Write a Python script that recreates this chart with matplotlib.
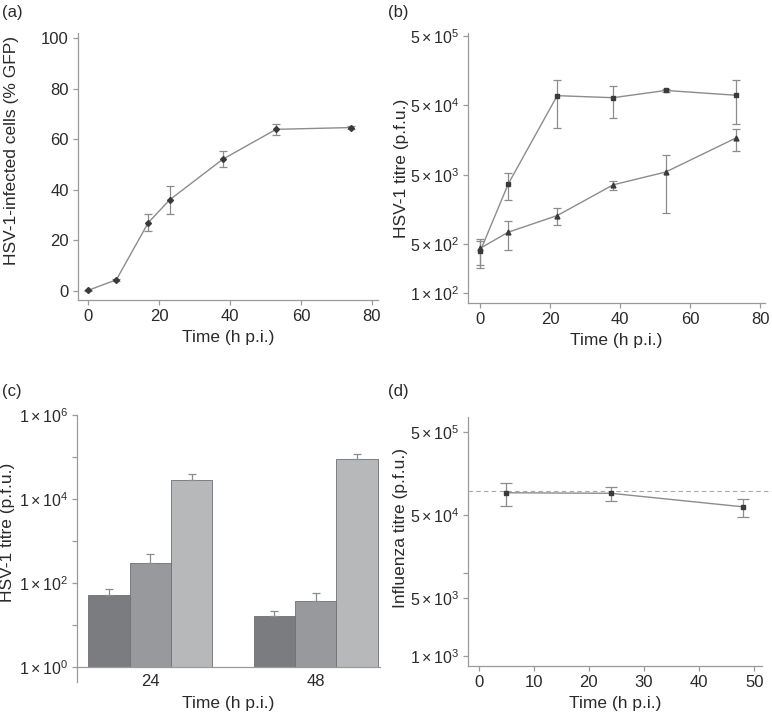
import matplotlib
matplotlib.use("Agg")
import matplotlib.pyplot as plt
import numpy as np

# ── Data ────────────────────────────────────────────────────────────────────
# (a) % GFP-positive cells
a_time = [0, 8, 17, 23, 38, 53, 74]
a_gfp = [0.2, 4.4, 27.0, 36.0, 52.1, 63.9, 64.6]
a_err = [0.3, 0.5, 3.3, 5.5, 3.1, 2.2, 0.6]

# (b) HSV-1 titre, two series
b_time = [0, 8, 22, 38, 53, 73]
b_sq = [400, 3700, 69000, 64500, 82000, 70000]
b_sq_lo = [250, 2200, 24000, 33000, 78000, 26600]
b_sq_hi = [560, 5300, 115000, 96000, 86000, 115000]
b_tri = [440, 750, 1300, 3600, 5500, 16900]
b_tri_lo = [230, 410, 960, 3050, 1430, 11000]
b_tri_hi = [590, 1100, 1690, 4100, 9700, 22700]

# (c) HSV-1 titre bars at 24 and 48 h p.i.
c_groups = ["24", "48"]
c_bar1 = [51, 16]
c_bar1_hi = [72, 21.5]
c_bar2 = [305, 37]
c_bar2_hi = [500, 59]
c_bar3 = [27800, 88000]
c_bar3_hi = [38700, 118000]

# (d) influenza titre
d_time = [5, 24, 48]
d_titre = [93400, 92000, 63100]
d_lo = [65500, 75300, 47300]
d_hi = [121000, 109000, 77500]
d_ref = 97800

# ── Style ───────────────────────────────────────────────────────────────────
TXT = "#2a2a2a"
SPINE = "#9a9a9a"
LINE = "#8c8c8c"
MARK = "#3a3a3a"
BAR_COLORS = ["#7b7c80", "#98999d", "#b7b8ba"]
BAR_EDGE = "#6e6f72"
LOGSIZE = 11.5

plt.rcParams.update({
    "font.family": ["Liberation Sans", "DejaVu Sans"],
    "font.size": 12,
    "mathtext.fontset": "custom",
    "mathtext.rm": "Liberation Sans",
    "mathtext.it": "Liberation Sans:italic",
    "text.color": TXT,
    "axes.labelcolor": TXT,
    "xtick.color": SPINE,
    "ytick.color": SPINE,
    "xtick.labelcolor": TXT,
    "ytick.labelcolor": TXT,
    "xtick.labelsize": 12,
    "ytick.labelsize": 12,
    "axes.labelsize": 12.5,
    "axes.edgecolor": SPINE,
    "axes.linewidth": 0.9,
    "xtick.major.width": 0.9,
    "ytick.major.width": 0.9,
    "xtick.minor.width": 0.9,
    "ytick.minor.width": 0.9,
    "xtick.major.size": 3.5,
    "ytick.major.size": 3.5,
    "ytick.minor.size": 3.5,
    "xtick.major.pad": 3,
    "ytick.major.pad": 3,
})


def sci(m, e):
    return r"$\mathregular{%d\times10^{%d}}$" % (m, e)


def style(ax):
    ax.spines["top"].set_visible(False)
    ax.spines["right"].set_visible(False)
    ax.tick_params(direction="out")


fig = plt.figure(figsize=(7.72, 7.15), dpi=100)
W, H = 772, 715


def add_ax(l, r, t, b):
    return fig.add_axes([l / W, 1 - b / H, (r - l) / W, (b - t) / H])


ax_a = add_ax(78, 378, 33, 300)
ax_b = add_ax(468, 765, 33, 303)
ax_c = add_ax(77, 380, 415, 682)
ax_d = add_ax(468, 762, 417, 666)

err_kw = dict(ecolor=LINE, elinewidth=0.9, capthick=0.9)

# ── (a) ─────────────────────────────────────────────────────────────────────
style(ax_a)
ax_a.errorbar(a_time, a_gfp, yerr=a_err, color=LINE, lw=1.0, marker="D",
              ms=3, mfc=MARK, mec=MARK, capsize=3, **err_kw)
ax_a.set_xlim(-2.8, 81.7)
ax_a.set_ylim(-3.6, 102)
ax_a.set_xticks([0, 20, 40, 60, 80])
ax_a.set_yticks([0, 20, 40, 60, 80, 100])
ax_a.set_xlabel("Time (h p.i.)", labelpad=4)
ax_a.set_ylabel("HSV-1-infected cells (% GFP)")
ax_a.yaxis.set_label_coords(-0.197, 0.56)

# ── (b) ─────────────────────────────────────────────────────────────────────
style(ax_b)
b_x = np.array(b_time)
for y, lo, hi, mk in [(b_sq, b_sq_lo, b_sq_hi, "s"), (b_tri, b_tri_lo, b_tri_hi, "^")]:
    y = np.array(y)
    yerr = [y - np.array(lo), np.array(hi) - y]
    ax_b.errorbar(b_x, y, yerr=yerr, color=LINE, lw=1.0, marker=mk, ms=3.5,
                  mfc=MARK, mec=MARK, capsize=3, **err_kw)
ax_b.set_yscale("log")
ax_b.set_xlim(-3.5, 81.4)
ax_b.set_ylim(71.8, 5.5e5)
ax_b.set_xticks([0, 20, 40, 60, 80])
ax_b.set_yticks([1e2, 5e2, 5e3, 5e4, 5e5])
ax_b.set_yticklabels([sci(1, 2), sci(5, 2), sci(5, 3), sci(5, 4), sci(5, 5)],
                     fontsize=LOGSIZE)
ax_b.yaxis.set_minor_locator(matplotlib.ticker.NullLocator())
ax_b.set_xlabel("Time (h p.i.)", labelpad=4)
ax_b.set_ylabel("HSV-1 titre (p.f.u.)")
ax_b.yaxis.set_label_coords(-0.199, 0.5)

# ── (c) ─────────────────────────────────────────────────────────────────────
style(ax_c)
cx = np.arange(len(c_groups))
bw = 0.25
for i, (vals, hi) in enumerate([(c_bar1, c_bar1_hi), (c_bar2, c_bar2_hi),
                                (c_bar3, c_bar3_hi)]):
    vals = np.array(vals, dtype=float)
    up = np.array(hi) - vals
    ax_c.bar(cx + (i - 1) * bw, vals - 1, bw, bottom=1, color=BAR_COLORS[i],
             edgecolor=BAR_EDGE, linewidth=0.6, zorder=2)
    ax_c.errorbar(cx + (i - 1) * bw, vals, yerr=[np.zeros_like(up), up],
                  fmt="none", capsize=3, zorder=3, **err_kw)
ax_c.set_yscale("log")
ax_c.set_ylim(0.44, 1e6)
ax_c.set_xlim(-0.443, 1.39)
ax_c.spines["bottom"].set_position(("data", 1))
ax_c.set_yticks([1, 1e2, 1e4, 1e6])
ax_c.set_yticklabels([sci(1, 0), sci(1, 2), sci(1, 4), sci(1, 6)], fontsize=LOGSIZE)
ax_c.set_yticks([1e1, 1e3, 1e5], minor=True)
ax_c.yaxis.set_minor_formatter(matplotlib.ticker.NullFormatter())
ax_c.set_xticks(cx)
ax_c.set_xticklabels(c_groups)
ax_c.tick_params(axis="x", length=0, pad=5)
ax_c.set_xlabel("Time (h p.i.)", labelpad=5)
ax_c.set_ylabel("HSV-1 titre (p.f.u.)")
ax_c.yaxis.set_label_coords(-0.205, 0.56)

# ── (d) ─────────────────────────────────────────────────────────────────────
style(ax_d)
dy = np.array(d_titre)
ax_d.errorbar(d_time, dy, yerr=[dy - np.array(d_lo), np.array(d_hi) - dy],
              color=LINE, lw=1.0, marker="s", ms=2.5, mfc=MARK, mec=MARK,
              capsize=4, **err_kw)
ax_d.axhline(d_ref, xmin=0, xmax=1.04, color="#a8a8a8", lw=0.8,
             ls=(0, (4, 3)), clip_on=False, zorder=1)
ax_d.set_yscale("log")
ax_d.set_xlim(-1.93, 51.4)
ax_d.set_ylim(755, 7.68e5)
ax_d.set_xticks([0, 10, 20, 30, 40, 50])
ax_d.set_yticks([1e3, 5e3, 5e4, 5e5])
ax_d.set_yticklabels([sci(1, 3), sci(5, 3), sci(5, 4), sci(5, 5)], fontsize=LOGSIZE)
ax_d.set_yticks([1e4], minor=True)
ax_d.yaxis.set_minor_formatter(matplotlib.ticker.NullFormatter())
ax_d.set_xlabel("Time (h p.i.)", labelpad=4)
ax_d.set_ylabel("Influenza titre (p.f.u.)")
ax_d.yaxis.set_label_coords(-0.204, 0.555)

# panel letters
for lbl, x, y in [("(a)", 2, 12), ("(b)", 388, 12), ("(c)", 2, 391), ("(d)", 388, 391)]:
    fig.text(x / W, 1 - y / H, lbl, fontsize=12, ha="left", va="center")

fig.savefig("out.png", dpi=100)
